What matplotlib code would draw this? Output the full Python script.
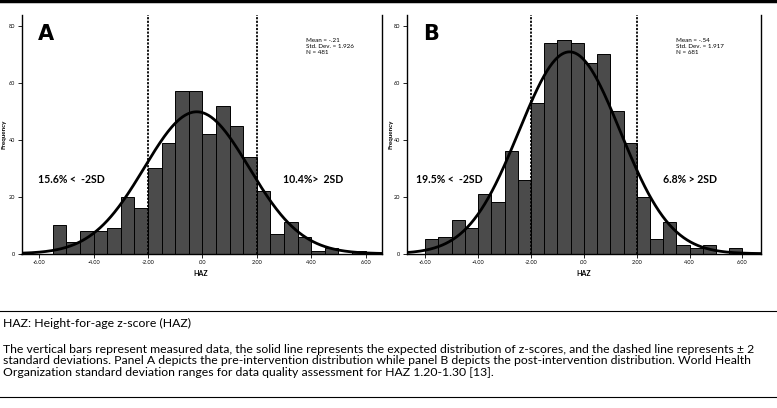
import numpy as np
import matplotlib.pyplot as plt
from matplotlib.lines import Line2D

plt.rcParams["font.family"] = ["Lato", "DejaVu Sans"]

# bin width 0.5, left edges below
edges_a = np.arange(-5.5, 6.0, 0.5)
counts_a = [10, 4, 8, 8, 9, 20, 16, 30, 39, 57, 57, 42, 52, 45, 34, 22, 7, 11, 6, 1, 2, 0, 1]
edges_b = np.arange(-6.0, 6.0, 0.5)
counts_b = [5, 6, 12, 9, 21, 18, 36, 26, 53, 74, 75, 74, 67, 70, 50, 39, 20, 5, 11, 3, 2, 3, 0, 2]

mean_a, sd_a, n_a = -0.21, 1.926, 481
mean_b, sd_b, n_b = -0.54, 1.917, 681

xticks = [-6, -4, -2, 0, 2, 4, 6]
xticklabels = ["-6.00", "-4.00", "-2.00", ".00", "2.00", "4.00", "6.00"]
yticks = [0, 20, 40, 60, 80]

W, H = 777, 408
fig = plt.figure(figsize=(W / 100, H / 100), dpi=100)


def panel(rect, edges, counts, mean, sd, n, letter, left_txt, right_txt, xlim, pos):
    ax = fig.add_axes(rect)
    ax.bar(edges, counts, width=0.5, align="edge", color="#4b4b4b",
           edgecolor="black", linewidth=0.7, zorder=2)
    xs = np.linspace(xlim[0], xlim[1], 400)
    ys = n * 0.5 / (sd * np.sqrt(2 * np.pi)) * np.exp(-0.5 * ((xs - mean) / sd) ** 2)
    ax.plot(xs, ys, color="black", lw=2, zorder=3)
    for v in (-2, 2):
        ax.axvline(v, color="black", lw=1.3, ls=(0, (1.2, 0.8)), zorder=4)
    ax.set_xlim(*xlim)
    ax.set_ylim(0, 83.8)
    ax.set_xticks(xticks)
    ax.set_xticklabels(xticklabels)
    ax.set_yticks(yticks)
    ax.tick_params(labelsize=4, length=3, width=0.6, pad=1.5)
    ax.spines["top"].set_visible(False)
    for s in ("left", "right", "bottom"):
        ax.spines[s].set_linewidth(1.0)
    ax.text(pos[0], 0.92, letter, transform=ax.transAxes, fontsize=15,
            fontweight="bold", family="DejaVu Sans", va="center", ha="left")
    ax.text(pos[1], 0.905, "Mean = %s\nStd. Dev. = %s\nN = %d" % (
        ("%.2f" % mean).replace("0.", "."), "%.3f" % sd, n),
        transform=ax.transAxes, fontsize=4.5, va="top", ha="left", linespacing=1.3)
    ax.text(pos[2], 0.31, left_txt, transform=ax.transAxes, fontsize=7.6,
            fontweight="bold", va="center", ha="left")
    ax.text(pos[3], 0.31, right_txt, transform=ax.transAxes, fontsize=7.6,
            fontweight="bold", va="center", ha="left")
    return ax


axA = panel([21.5 / W, 1 - 253.7 / H, 360.5 / W, 238.7 / H], edges_a, counts_a,
            mean_a, sd_a, n_a, "A", "15.6% <  -2SD", "10.4%>  2SD",
            (-6.65, 6.6), (0.046, 0.788, 0.045, 0.725))
axB = panel([406.7 / W, 1 - 253.7 / H, 354.3 / W, 238.7 / H], edges_b, counts_b,
            mean_b, sd_b, n_b, "B", "19.5% <  -2SD", "6.8% > 2SD",
            (-6.7, 6.7), (0.046, 0.76, 0.026, 0.724))

for ax, x in ((axA, 201 / W), (axB, 584 / W)):
    fig.text(x, 1 - 273 / H, "HAZ", fontsize=5, fontweight="bold", ha="center", va="center")
for x in (4 / W, 391 / W):
    fig.text(x, 1 - 134 / H, "Frequency", fontsize=4.5, fontweight="bold",
             rotation=90, ha="center", va="center")

# rules
fig.add_artist(Line2D([0, 1], [1 - 1 / H, 1 - 1 / H], color="black", lw=2.5))
fig.add_artist(Line2D([0, 1], [1 - 311 / H, 1 - 311 / H], color="black", lw=0.8))
fig.add_artist(Line2D([0, 1], [1 - 397 / H, 1 - 397 / H], color="black", lw=0.8))

fig.text(3 / W, 1 - 323 / H, "HAZ: Height-for-age z-score (HAZ)", fontsize=8.8,
         ha="left", va="center")
para = ["The vertical bars represent measured data, the solid line represents the expected distribution of z-scores, and the dashed line represents \u00b1 2",
        "standard deviations. Panel A depicts the pre-intervention distribution while panel B depicts the post-intervention distribution. World Health",
        "Organization standard deviation ranges for data quality assessment for HAZ 1.20-1.30 [13]."]
for i, line in enumerate(para):
    fig.text(3 / W, 1 - (349.3 + 11.5 * i) / H, line, fontsize=8.8, ha="left", va="center")

fig.savefig("out.png", dpi=100)
